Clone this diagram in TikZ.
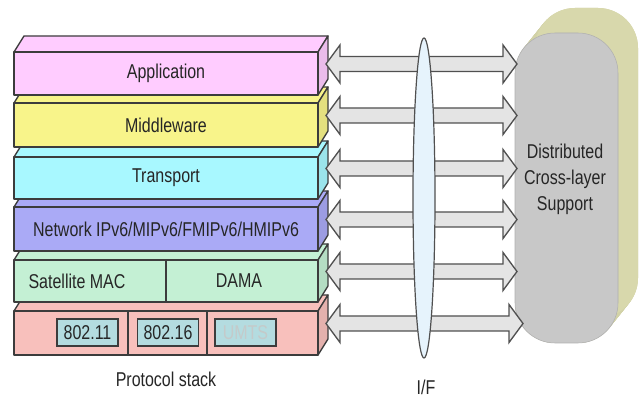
\documentclass[tikz,border=0pt]{standalone}
\usepackage{fontspec}
\setmainfont{Liberation Sans}[FakeStretch=0.8]
\usetikzlibrary{calc,shapes.geometric}

\definecolor{ink}{HTML}{262626}
\definecolor{edgegray}{HTML}{3C3C3C}
\definecolor{appcol}{HTML}{FFCCFF}
\definecolor{midcol}{HTML}{F8F48A}
\definecolor{tracol}{HTML}{A8F8FF}
\definecolor{netcol}{HTML}{AAAAF6}
\definecolor{satcol}{HTML}{C4F0D4}
\definecolor{phycol}{HTML}{F8C0BC}
\definecolor{chipcol}{HTML}{B4DCE0}
\definecolor{chipmuted}{HTML}{C4CACA}
\definecolor{arrowfill}{HTML}{E4E4E4}
\definecolor{arrowedge}{HTML}{505050}
\definecolor{lensfill}{HTML}{E6F3FC}
\definecolor{supportcol}{HTML}{C8C8C8}
\definecolor{khaki}{HTML}{D8D8AC}
\definecolor{khakidark}{HTML}{BEBE96}

\newcommand\labelfont{\fontsize{15}{19.5}\selectfont}

\tikzset{
  edge/.style={draw=edgegray, line width=1pt, line join=round},
  face/.style={edge, minimum width=228pt, inner sep=0pt, outer sep=0pt,
    text=ink, font=\labelfont},
  chip/.style={draw=edgegray, line width=1pt, fill=chipcol, inner sep=0pt,
    minimum width=45.75pt, minimum height=20.25pt, text=ink, font=\labelfont},
  linkarrow/.style={draw=arrowedge, fill=arrowfill, line width=1pt,
    line join=miter},
  caption/.style={text=ink, font=\labelfont, inner sep=0pt}
}

% one layer of the stack: top face, right side face, front face node
% #1 name, #2 top y, #3 bottom y, #4 colour, #5 label
\newcommand\stacklayer[5]{%
  \draw[edge, fill=#4] (14,#2) -- (24,#2-16) -- (328,#2-16) -- (318,#2) -- cycle;
  \draw[edge, fill=#4!92!black] (318,#2) -- (328,#2-16) -- (328,#3-16) -- (318,#3) -- cycle;
  \node[face, fill=#4, minimum height={(#3-#2)*0.75pt}] (#1) at (166,{(#2+#3)/2}) {#5};
}

% double-headed block arrow from a layer to the support block
% #1 extra reach, #2 layer node, #3 target node
\newcommand\linkarrow[3][0]{%
  \draw[linkarrow] let \p1=($(#2.east)+(8,-9.5)$), \p2=($(#3.west)+(2+#1,0)$) in
    (\x1,\y1) -- ($(\x1,\y1)+(14,-19)$) -- ($(\x1,\y1)+(14,-7.5)$)
    -- ($(\x2,\y1)+(-14,-7.5)$) -- ($(\x2,\y1)+(-14,-19)$) -- (\x2,\y1)
    -- ($(\x2,\y1)+(-14,19)$) -- ($(\x2,\y1)+(-14,7.5)$)
    -- ($(\x1,\y1)+(14,7.5)$) -- ($(\x1,\y1)+(14,19)$) -- cycle;
}

\begin{document}
\begin{tikzpicture}[x=0.75pt,y=-0.75pt]
\useasboundingbox[fill=white] (0,0) rectangle (639,398);

% ---- protocol stack, drawn from the bottom layer upwards ----
\stacklayer{phy}{311}{355}{phycol}{}
\stacklayer{sat}{260}{302}{satcol}{}
\stacklayer{net}{207}{251}{netcol}{Network IPv6/MIPv6/FMIPv6/HMIPv6}
\stacklayer{tra}{157}{199}{tracol}{Transport}
\stacklayer{mid}{103}{147}{midcol}{Middleware}
\stacklayer{app}{52}{95}{appcol}{Application}

% satellite layer cells
\draw[edge] ($(sat.north west)+(152,0)$) -- ($(sat.south west)+(152,0)$);
\node[caption] (satmac) at (77,281) {Satellite MAC};
\node[caption] (dama) at (239,281) {DAMA};

% physical layer cells and access technologies
\draw[edge] ($(phy.north west)+(114,0)$) -- ($(phy.south west)+(114,0)$);
\draw[edge] ($(phy.north west)+(193,0)$) -- ($(phy.south west)+(193,0)$);
\node[chip] (wifi) at (87.5,332.5) {802.11};
\node[chip] (wimax) at (168,332.5) {802.16};
\node[chip, text=chipmuted] (umts) at (245.5,332.5) {UMTS};

\node[caption] (stacklabel) at (166,379) {Protocol stack};

% ---- distributed cross-layer support block with its extruded back ----
\foreach \t in {1.00,0.96,...,0.0}{
  \fill[khaki!75!khakidark, rounded corners=30pt]
    (515+20*\t,33-25*\t) rectangle ++(103,310);
}
\fill[khaki, rounded corners=30pt] (535,8) rectangle ++(103,310);
\node[fill=supportcol, draw=supportcol!88!black, line width=0.4pt,
  rounded corners=30pt, minimum width=77.25pt, minimum height=232.5pt,
  inner sep=0pt, outer sep=0pt] (dcs) at (566.5,188) {};
\node[caption, align=center] (dcslabel) at (565,179) {Distributed\\Cross-layer\\Support};

% ---- interface arrows ----
\linkarrow{app}{dcs}
\linkarrow{mid}{dcs}
\linkarrow{tra}{dcs}
\linkarrow{net}{dcs}
\linkarrow{sat}{dcs}
\linkarrow[6]{phy}{dcs}

% ---- interface lens ----
\node[ellipse, draw=arrowedge, line width=0.9pt, fill=lensfill, inner sep=0pt,
  minimum width=16.5pt, minimum height=240pt] (iface) at (424,198) {};
\node[caption] (iflabel) at (426,387) {I/F};

\end{tikzpicture}
\end{document}
